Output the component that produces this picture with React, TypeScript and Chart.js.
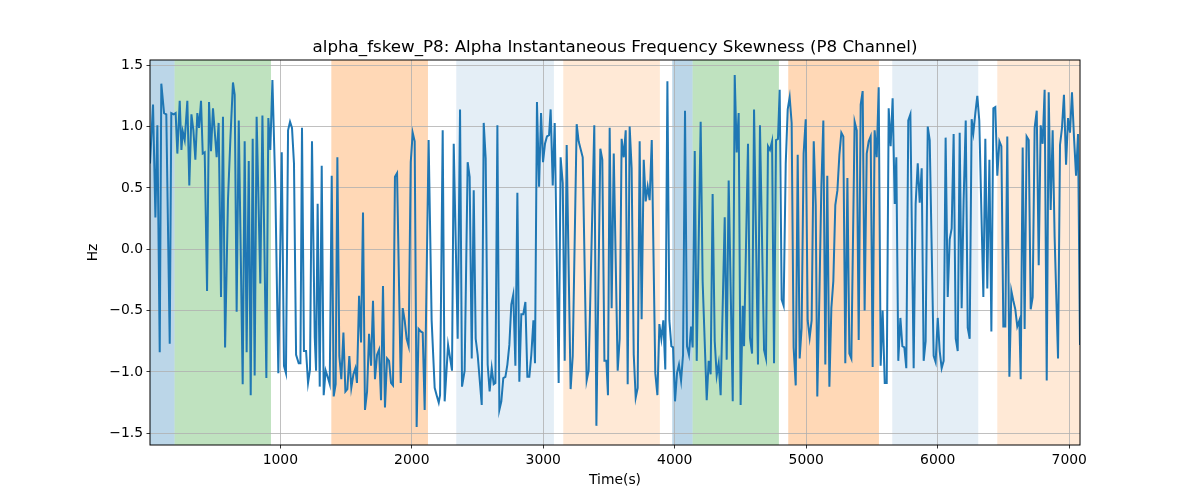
import React, { useEffect, useRef } from 'react';
import { Chart, registerables } from 'chart.js';

Chart.register(...registerables);

// time (s) of each sample
const times: number[] = [
  9, 32, 50, 65, 83, 95, 116, 133, 159, 171, 189, 204, 217, 235, 248, 258, 273, 293, 308, 324,
  339, 354, 369, 382, 397, 410, 425, 443, 458, 473, 488, 516, 531, 549, 564, 580, 602, 620, 640, 653,
  668, 684, 714, 729, 744, 760, 775, 790, 805, 820, 848, 864, 894, 909, 924, 940, 962, 985, 1011, 1028,
  1043, 1059, 1074, 1089, 1104, 1120, 1140, 1153, 1165, 1180, 1196, 1211, 1226, 1241, 1262, 1272, 1284, 1300,
  1315, 1330, 1345, 1360, 1376, 1391, 1406, 1421, 1434, 1449, 1464, 1480, 1495, 1510, 1525, 1540, 1556, 1571,
  1583, 1599, 1614, 1629, 1644, 1660, 1675, 1690, 1705, 1720, 1736, 1751, 1766, 1781, 1796, 1812, 1827, 1842,
  1857, 1872, 1888, 1916, 1931, 1946, 1961, 1976, 1992, 2007, 2022, 2037, 2052, 2068, 2083, 2098, 2128, 2151,
  2174, 2189, 2205, 2215, 2235, 2250, 2276, 2306, 2319, 2349, 2367, 2382, 2402, 2425, 2440, 2456, 2471, 2486,
  2501, 2532, 2547, 2562, 2577, 2592, 2608, 2623, 2636, 2651, 2666, 2681, 2696, 2712, 2727, 2742, 2757, 2772,
  2788, 2803, 2818, 2833, 2848, 2864, 2879, 2894, 2909, 2925, 2937, 2952, 2968, 2983, 2998, 3013, 3028, 3044,
  3056, 3072, 3087, 3117, 3132, 3148, 3163, 3178, 3208, 3224, 3254, 3269, 3300, 3330, 3345, 3388, 3404, 3434,
  3449, 3465, 3480, 3492, 3505, 3520, 3536, 3566, 3581, 3596, 3612, 3627, 3642, 3657, 3672, 3688, 3703, 3718,
  3733, 3748, 3764, 3779, 3794, 3809, 3825, 3852, 3868, 3883, 3898, 3913, 3928, 3944, 3959, 3974, 3987, 4002,
  4017, 4032, 4048, 4063, 4078, 4093, 4108, 4124, 4136, 4152, 4167, 4197, 4212, 4243, 4258, 4273, 4288, 4304,
  4319, 4334, 4349, 4380, 4395, 4410, 4441, 4456, 4471, 4486, 4501, 4517, 4527, 4557, 4572, 4588, 4603, 4633,
  4648, 4679, 4694, 4709, 4724, 4740, 4755, 4770, 4785, 4798, 4813, 4828, 4844, 4859, 4874, 4889, 4904, 4920,
  4935, 4950, 4965, 4980, 4996, 5011, 5026, 5041, 5057, 5072, 5084, 5100, 5115, 5130, 5145, 5160, 5176, 5191,
  5206, 5221, 5237, 5252, 5267, 5282, 5297, 5313, 5328, 5343, 5368, 5384, 5399, 5414, 5429, 5444, 5460, 5475,
  5490, 5505, 5520, 5536, 5551, 5566, 5581, 5597, 5612, 5627, 5642, 5657, 5673, 5685, 5700, 5716, 5731, 5746,
  5761, 5776, 5792, 5817, 5832, 5848, 5863, 5878, 5893, 5908, 5924, 5939, 5969, 5984, 6000, 6015, 6030, 6045,
  6060, 6076, 6091, 6106, 6121, 6137, 6152, 6167, 6182, 6197, 6213, 6228, 6243, 6258, 6271, 6286, 6301, 6316,
  6347, 6362, 6377, 6393, 6408, 6423, 6438, 6453, 6469, 6484, 6499, 6514, 6529, 6545, 6560, 6575, 6590, 6605,
  6621, 6631, 6646, 6661, 6676, 6692, 6707, 6722, 6737, 6753, 6768, 6783, 6798, 6813, 6829, 6844, 6859, 6874,
  6889, 6915, 6930, 6945, 6960, 6976, 6991, 7006, 7021, 7036, 7052, 7067, 7082,
];

// skewness (Hz) at each time
const values: number[] = [
  0.70, 1.18, 0.26, 1.01, -0.84, 1.35, 1.11, 1.10, -0.77, 1.11, 1.10, 1.11, 0.78, 1.21, 0.81, 0.96, 0.89, 1.21, 0.52, 1.10,
  0.97, 0.73, 1.11, 0.99, 1.21, 0.78, 0.79, -0.34, 1.20, 0.80, 1.15, 0.75, 1.03, -0.39, 1.08, -0.80, 0.40, 0.89, 1.36, 1.26,
  -0.51, 1.05, -1.10, 0.88, -0.84, 0.72, -1.19, 0.90, -1.03, 1.08, -0.28, 1.09, -1.05, 1.07, 0.81, 1.38, 0.51, -1.01, 0.79, -0.95,
  -1.01, 0.97, 1.04, 0.99, 0.70, -0.86, -0.93, -0.93, 0.99, -0.83, -0.83, -1.09, -0.98, 0.88, -0.72, -0.99, 0.37, -1.12,
  0.68, -1.19, -0.99, -1.04, -1.10, 0.60, -1.20, -1.10, 0.75, -0.87, -1.06, -0.68, -1.16, -1.14, -0.87, -1.13, -1.02, -0.97,
  -1.09, -0.38, -0.76, 0.30, -1.31, -1.16, -0.69, -0.95, -0.42, -1.06, -0.86, -0.82, -1.23, -0.30, -1.29, -0.89, -0.91, -1.09,
  -1.11, 0.59, 0.62, -1.09, -0.48, -0.58, -0.73, -0.79, 0.71, 0.95, 0.88, -1.45, -0.65, -0.67, -0.68, -1.31, 0.89, -0.58,
  -1.13, -1.19, -1.25, -1.19, 0.97, -1.24, -0.78, -0.99, 0.86, -0.73, 1.14, -1.12, -0.99, 0.71, 0.59, -0.89, 0.48, -0.73,
  -0.86, -1.27, 1.03, 0.74, -0.94, -1.16, -0.97, -1.10, -1.09, 1.01, -1.31, -1.24, -1.05, -1.04, -0.94, -0.78, -0.45, -0.37,
  -0.95, 0.46, -1.08, -0.53, -0.53, -0.43, -1.04, -1.04, -0.86, -0.58, -0.93, 1.20, 0.51, 1.11, 0.71, 0.86, 0.92, 0.93,
  1.14, 0.52, 1.03, -1.09, 0.75, 0.54, -0.91, 0.85, -1.14, -0.87, 1.02, 0.88, 0.75, -1.07, -0.99, 1.01, -1.44, 0.82,
  0.73, -0.91, -0.91, -1.19, 0.99, -0.48, 0.78, -0.99, -0.73, 0.90, 0.75, 0.97, -1.10, 1.00, 0.66, -0.86, -1.21, -1.13,
  0.88, -0.57, 0.73, 0.39, 0.51, 0.40, 0.89, -1.01, -1.19, -0.61, -0.73, -0.58, -0.98, 1.37, -0.58, -0.79, -0.80, -1.24,
  -1.01, -0.94, -1.07, -0.86, 1.13, -0.79, -0.86, -0.63, -0.80, 0.80, -0.91, 1.04, -0.26, -1.23, -0.91, -1.02, 0.45, -0.75,
  -1.03, -0.93, -1.19, 0.26, -0.90, 0.56, -1.24, 1.42, 0.79, 1.11, -1.27, -0.46, -0.79, 0.86, -0.72, -0.85, 1.14, -0.94,
  1.01, -0.82, -0.89, 0.84, 0.81, 0.88, -0.93, 0.89, 0.90, 1.30, -0.41, -0.46, 0.70, 1.14, 1.24, 1.03, -0.80, -1.11,
  0.77, -0.89, -0.64, 0.78, 1.06, -0.58, -0.72, -0.58, 0.88, 0.36, -1.20, -0.37, 0.51, 1.05, -0.94, 0.60, -1.12, -0.48,
  -0.26, 0.36, 0.48, 0.77, 0.95, 0.92, -0.93, 0.58, -0.85, -0.89, 1.04, 0.97, -0.74, 1.18, 1.29, -0.50, 0.78, 0.88,
  0.92, -0.96, 0.97, 0.75, 1.32, -0.95, -0.50, -1.09, -1.09, 1.15, 0.84, 1.23, 0.37, 0.75, -0.91, -0.56, -0.79, -0.80,
  -0.97, 1.05, 1.10, -0.97, 0.37, 0.70, 0.38, 0.66, -0.91, -0.75, 1.00, 0.89, -0.87, -0.92, -0.56, -0.83, -0.97, -0.91,
  0.91, -0.39, 0.08, 0.17, 0.94, -0.73, -0.83, 0.95, -0.48, 0.40, 1.05, -0.64, -0.73, 1.06, 0.95, 1.11, 1.25, 1.05,
  -0.39, 0.90, -0.32, 0.73, -0.67, 1.15, 1.16, 0.60, 0.88, 0.84, -0.63, -0.63, 0.92, -1.04, -0.34, -0.42, -0.49, -0.63,
  -0.58, -1.06, 0.83, -0.65, 0.92, 0.89, -0.49, -0.39, 0.99, 1.13, -0.13, 1.01, 0.86, 1.30, -1.07, 1.28, 0.32, 0.97,
  0.10, -0.89, 0.85, 0.99, 1.26, 0.69, 1.07, 0.95, 1.28, 0.92, 0.60, 0.94, -0.78,
];

// shaded segments: start, end, colour
const bandStarts: number[] = [9, 196, 1388, 2338, 3152, 3981, 4136, 4863, 5654, 6453];
const bandEnds: number[] = [196, 929, 2123, 3081, 3887, 4136, 4792, 5553, 6308, 7082];
const bandColors: string[] = [
  'rgba(31,119,180,0.3)',
  'rgba(44,160,44,0.3)',
  'rgba(255,127,14,0.3)',
  'rgba(31,119,180,0.12)',
  'rgba(255,127,14,0.17)',
  'rgba(31,119,180,0.3)',
  'rgba(44,160,44,0.3)',
  'rgba(255,127,14,0.3)',
  'rgba(31,119,180,0.12)',
  'rgba(255,127,14,0.17)',
];

const xTicks: number[] = [1000, 2000, 3000, 4000, 5000, 6000, 7000];
const yTicks: number[] = [-1.5, -1.0, -0.5, 0.0, 0.5, 1.0, 1.5];

const FONT = 'DejaVu Sans';

const App: React.FC = () => {
  const canvasRef = useRef<HTMLCanvasElement>(null);

  useEffect(() => {
    if (!canvasRef.current) return;
    const ctx = canvasRef.current.getContext('2d');
    if (!ctx) return;

    const bands = {
      id: 'bands',
      beforeDraw(chart: any) {
        const { ctx: c, chartArea, scales } = chart;
        c.save();
        bandStarts.forEach((s, i) => {
          const x0 = scales.x.getPixelForValue(s);
          const x1 = scales.x.getPixelForValue(bandEnds[i]);
          c.fillStyle = bandColors[i];
          c.fillRect(x0, chartArea.top, x1 - x0, chartArea.bottom - chartArea.top);
        });
        c.restore();
      },
    };

    const frame = {
      id: 'frame',
      afterDraw(chart: any) {
        const { ctx: c, chartArea } = chart;
        c.save();
        c.strokeStyle = '#000';
        c.lineWidth = 1;
        c.strokeRect(chartArea.left, chartArea.top, chartArea.right - chartArea.left, chartArea.bottom - chartArea.top);
        c.fillStyle = '#000';
        c.textAlign = 'center';
        c.font = `16.7px "${FONT}"`;
        c.textBaseline = 'alphabetic';
        const cx = (chartArea.left + chartArea.right) / 2;
        c.fillText('alpha_fskew_P8: Alpha Instantaneous Frequency Skewness (P8 Channel)', cx, 52);
        c.font = `13.9px "${FONT}"`;
        c.textBaseline = 'top';
        c.fillText('Time(s)', cx, 473);
        c.translate(93, (chartArea.top + chartArea.bottom) / 2);
        c.rotate(-Math.PI / 2);
        c.textBaseline = 'middle';
        c.fillText('Hz', 0, 0);
        c.restore();
      },
    };

    const chart = new Chart(ctx, {
      type: 'line',
      data: {
        datasets: [
          {
            data: times.map((t, i) => ({ x: t, y: values[i] })),
            borderColor: '#1f77b4',
            borderWidth: 2,
            pointRadius: 0,
            tension: 0,
            fill: false,
          },
        ],
      },
      options: {
        animation: false,
        responsive: false,
        layout: { padding: { left: 0, top: 60, right: 120, bottom: 0 } },
        plugins: {
          legend: { display: false },
          title: { display: false },
          tooltip: { enabled: false },
        },
        scales: {
          x: {
            type: 'linear',
            min: 9,
            max: 7082,
            afterFit: (scale: any) => {
              scale.height = 55;
            },
            afterBuildTicks: (scale: any) => {
              scale.ticks = xTicks.map((v) => ({ value: v }));
            },
            grid: { color: '#b0b0b0', lineWidth: 0.8, tickColor: '#000', tickLength: 3.5, tickWidth: 0.8 },
            border: { display: false },
            ticks: {
              color: '#000',
              font: { family: FONT, size: 13.9 },
              padding: 3.5,
              maxRotation: 0,
              callback: (v: any) => String(v),
            },
          },
          y: {
            type: 'linear',
            min: -1.596,
            max: 1.543,
            afterFit: (scale: any) => {
              scale.width = 150;
            },
            afterBuildTicks: (scale: any) => {
              scale.ticks = yTicks.map((v) => ({ value: v }));
            },
            grid: { color: '#b0b0b0', lineWidth: 0.8, tickColor: '#000', tickLength: 3.5, tickWidth: 0.8 },
            border: { display: false },
            ticks: {
              color: '#000',
              font: { family: FONT, size: 13.9 },
              padding: 3.5,
              callback: (v: any) => Number(v).toFixed(1).replace('-', '\u2212'),
            },
          },
        },
      },
      plugins: [bands, frame],
    });

    return () => {
      chart.destroy();
    };
  }, []);

  return (
    <div style={{ position: 'absolute', left: 0, top: 0, width: 1200, height: 500, background: '#fff' }}>
      <canvas ref={canvasRef} width={1200} height={500}></canvas>
    </div>
  );
};

export default App;
